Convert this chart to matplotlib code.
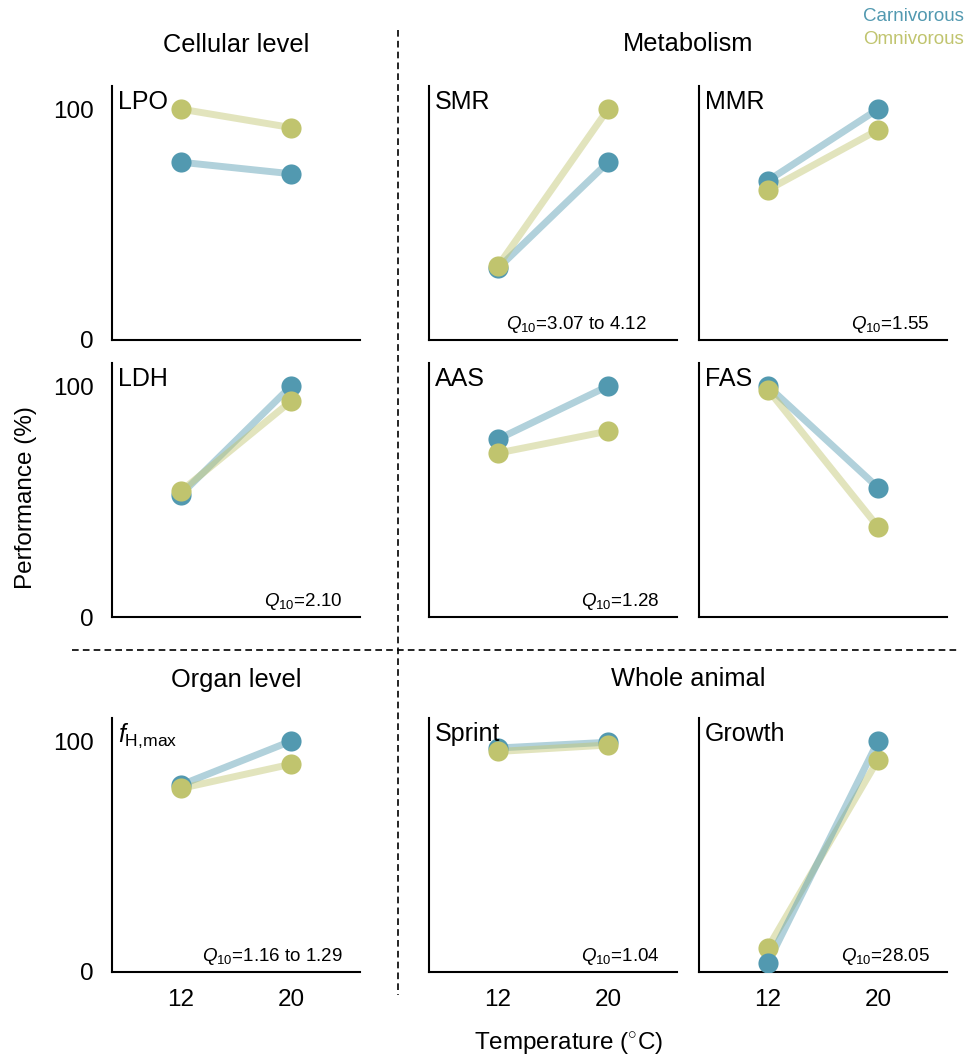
import matplotlib
matplotlib.use("Agg")
import matplotlib.pyplot as plt
from matplotlib.lines import Line2D

plt.rcParams['font.family'] = ['Liberation Sans', 'DejaVu Sans']
plt.rcParams['mathtext.fontset'] = 'custom'
plt.rcParams['mathtext.rm'] = 'Liberation Sans'
plt.rcParams['mathtext.it'] = 'Liberation Sans:italic'
plt.rcParams['mathtext.bf'] = 'Liberation Sans:bold'

# データ
temps = [12, 20]
panel_names = ["LPO", "SMR", "MMR",
               "LDH", "AAS", "FAS",
               r"$f_{\mathrm{H{,}max}}$", "Sprint", "Growth"]
carnivorous = [[77, 72], [31, 77], [69, 100],
               [53, 100], [77, 100], [100, 56],
               [81, 100], [97, 99.5], [4, 100]]
omnivorous = [[100, 92], [32, 100], [65, 91],
              [54.5, 93.5], [71, 80.5], [98.5, 39],
              [79.5, 90], [95.5, 98.3], [10.5, 92]]
q10_labels = [None, r"$Q_{10}$=3.07 to 4.12", r"$Q_{10}$=1.55",
              r"$Q_{10}$=2.10", r"$Q_{10}$=1.28", None,
              r"$Q_{10}$=1.16 to 1.29", r"$Q_{10}$=1.04", r"$Q_{10}$=28.05"]
carn_on_top = [False] * 8 + [True]

blue = "#5299b0"
olive = "#c0c46e"

W, H = 966, 1057
fig = plt.figure(figsize=(W / 100, H / 100), dpi=100)

# 軸の位置 (ピクセル)
col_x = [112, 429, 699]
row_top = [86, 363, 718]
ax_w, ax_h = 248, 254

for i, name in enumerate(panel_names):
    r, c = divmod(i, 3)
    ax = fig.add_axes([col_x[c] / W, 1 - (row_top[r] + ax_h) / H, ax_w / W, ax_h / H])
    series = [(carnivorous[i], blue), (omnivorous[i], olive)]
    if carn_on_top[i]:
        series = series[::-1]
    for vals, col in series:
        ax.plot(temps, vals, color=col, lw=5, alpha=0.45, solid_capstyle='butt', zorder=2)
    for vals, col in series:
        ax.plot(temps, vals, 'o', color=col, ms=14.5, mec='none', zorder=3)
    ax.set_xlim(7, 25)
    ax.set_ylim(0, 110)
    for s in ['top', 'right']:
        ax.spines[s].set_visible(False)
    for s in ['left', 'bottom']:
        ax.spines[s].set_linewidth(1.5)
    ax.tick_params(length=0, labelsize=17.5)
    ax.tick_params(axis='y', pad=13)
    ax.tick_params(axis='x', pad=12)
    if c == 0:
        ax.set_yticks([0, 100])
    else:
        ax.set_yticks([])
    if r == 2:
        ax.set_xticks(temps)
    else:
        ax.set_xticks([])
    ax.text(0.025, 0.985, name, transform=ax.transAxes, ha='left', va='top', fontsize=18)
    if q10_labels[i]:
        xq = 0.88 if i == 1 else 0.93
        ax.text(xq, 0.045, q10_labels[i], transform=ax.transAxes,
                ha='right', va='baseline', fontsize=13.5)

# セクション見出し
fig.text(236 / W, 1 - 52 / H, "Cellular level", ha='center', va='baseline', fontsize=18.3)
fig.text(688 / W, 1 - 51 / H, "Metabolism", ha='center', va='baseline', fontsize=18.3)
fig.text(236 / W, 1 - 687 / H, "Organ level", ha='center', va='baseline', fontsize=18.3)
fig.text(688 / W, 1 - 686 / H, "Whole animal", ha='center', va='baseline', fontsize=18.3)

# 凡例
fig.text(964 / W, 1 - 21 / H, "Carnivorous", ha='right', va='baseline', color=blue, fontsize=13.5)
fig.text(964 / W, 1 - 44 / H, "Omnivorous", ha='right', va='baseline', color=olive, fontsize=13.5)

# 軸ラベル
fig.text(26 / W, 1 - 498 / H, "Performance (%)", rotation=90, ha='center', va='center', fontsize=17.5)
fig.text(569 / W, 1 - 1049 / H, r"Temperature ($^{\circ}$C)", ha='center', va='baseline', fontsize=17.5)

# 区切りの破線
fig.add_artist(Line2D([398 / W, 398 / W], [1 - 30 / H, 1 - 995 / H], transform=fig.transFigure,
                      color='black', lw=1.2, ls=(0, (4, 2.5))))
fig.add_artist(Line2D([72 / W, 958 / W], [1 - 650 / H, 1 - 650 / H], transform=fig.transFigure,
                      color='black', lw=1.2, ls=(0, (4, 2.5))))

fig.savefig("out.png", dpi=100)
